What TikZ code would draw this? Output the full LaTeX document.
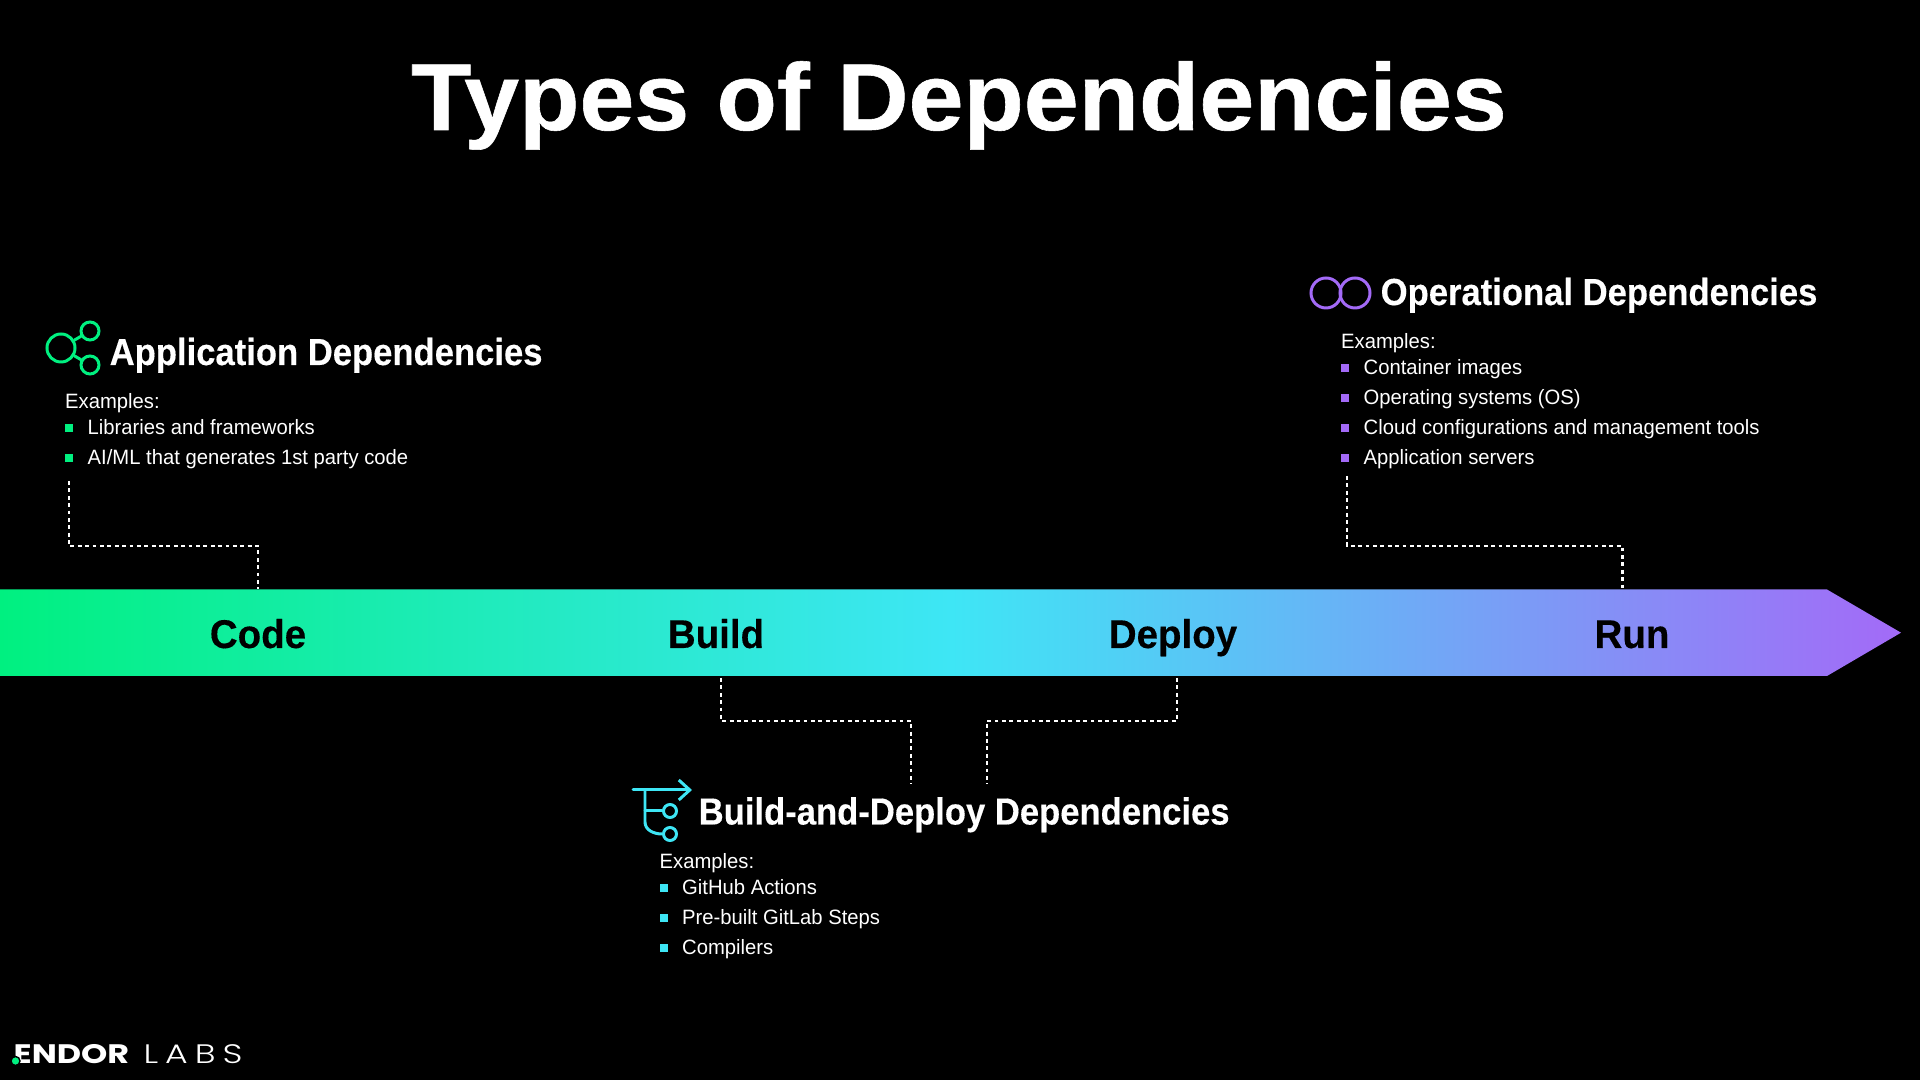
\documentclass[tikz,border=0pt]{standalone}
\usepackage{xcolor}
\usepackage{fontspec}
\usepackage{tikz}
\usetikzlibrary{
    arrows.meta,
    positioning
}
\setmainfont[FakeStretch=0.975]{Liberation Sans}
\newfontfamily\titlefont[FakeStretch=1.04,BoldFeatures={FakeBold=0.6}]{Liberation Sans}
\newfontfamily\headfont[FakeStretch=0.92,BoldFeatures={FakeBold=0.3}]{Liberation Sans}
\newfontfamily\stagefont[FakeStretch=0.96,BoldFeatures={FakeBold=0.3}]{Liberation Sans}
\newfontfamily\logofont[FakeStretch=1.25]{Poppins}
\newfontfamily\logothin[FakeStretch=1.3]{Poppins Light}
\definecolor{endgreen}{HTML}{00F080}
\definecolor{endcyan}{HTML}{3EE6F5}
\definecolor{endpurple}{HTML}{A36AF7}

\begin{document}
\begin{tikzpicture}[
    x=0.01cm, y=-0.01cm,
    titletext/.style={
        anchor=base, text=white,
        font=\titlefont\fontsize{27}{30}\selectfont\bfseries, inner sep=0pt
    },
    headtext/.style={
        anchor=base west, text=white,
        font=\headfont\fontsize{10.7}{12}\selectfont\bfseries, inner sep=0pt
    },
    stagetext/.style={
        anchor=base, text=black,
        font=\stagefont\fontsize{11.4}{12}\selectfont\bfseries, inner sep=0pt
    },
    itemtext/.style={
        anchor=base west, text=white,
        font=\fontsize{5.9}{7}\selectfont, inner sep=0pt
    },
    bulletbox/.style={
        rectangle, fill=#1, inner sep=0pt, minimum size=0.08cm
    },
    dashlink/.style={
        draw=white, line width=0.6pt, dash pattern=on 1.1pt off 1pt
    },
    iconline/.style={
        draw=#1, line width=0.85pt, line cap=round
    }
]

% background
\fill[black] (0,0) rectangle (1920,1080);
\useasboundingbox (0,0) rectangle (1920,1080);

% title
\node[titletext] (title) at (959,130) {Types of Dependencies};

% stage arrow
\path[shade, shading=axis, left color=endgreen, right color=endpurple, middle color=endcyan, shading angle=90]
    (0,589.5) -- (1827,589.5) -- (1901,632.7) -- (1827,676) -- (0,676) -- cycle;
\node[stagetext] (code) at (258,648) {Code};
\node[stagetext] (build) at (716,648) {Build};
\node[stagetext] (deploy) at (1173,648) {Deploy};
\node[stagetext] (run) at (1632,648) {Run};

% application
\node[headtext] (apphead) at (109,365) {Application Dependencies};
\node[itemtext] (appex) at (64.5,409) {Examples:};
\node[bulletbox=endgreen] (appbul1) at (69,428) {};
\node[itemtext] (appitem1) at (87,434.5) {Libraries and frameworks};
\node[bulletbox=endgreen] (appbul2) at (69,458) {};
\node[itemtext] (appitem2) at (87,465) {AI/ML that generates 1st party code};

\node[circle, iconline=endgreen, minimum size=0.28cm, inner sep=0pt] (appbig) at (61,348) {};
\node[circle, iconline=endgreen, minimum size=0.18cm, inner sep=0pt] (apptop) at (90,331) {};
\node[circle, iconline=endgreen, minimum size=0.18cm, inner sep=0pt] (applow) at (90,365) {};
\draw[iconline=endgreen] (appbig) -- (apptop);
\draw[iconline=endgreen] (appbig) -- (applow);

% operational
\node[headtext] (ophead) at (1380,305) {Operational Dependencies};
\node[itemtext] (opex) at (1340.5,349) {Examples:};
\node[bulletbox=endpurple] (opbul1) at (1345,368) {};
\node[itemtext] (opitem1) at (1363,374.5) {Container images};
\node[bulletbox=endpurple] (opbul2) at (1345,398) {};
\node[itemtext] (opitem2) at (1363,405) {Operating systems (OS)};
\node[bulletbox=endpurple] (opbul3) at (1345,428) {};
\node[itemtext] (opitem3) at (1363,434.5) {Cloud configurations and management tools};
\node[bulletbox=endpurple] (opbul4) at (1345,458) {};
\node[itemtext] (opitem4) at (1363,465) {Application servers};

\node[circle, iconline=endpurple, minimum size=0.3cm, inner sep=0pt] (opleft) at (1326,293) {};
\node[circle, iconline=endpurple, minimum size=0.3cm, inner sep=0pt] (opright) at (1355,293) {};

% build and deploy
\node[headtext] (bdhead) at (698,824.5) {Build-and-Deploy Dependencies};
\node[itemtext] (bdex) at (659,869) {Examples:};
\node[bulletbox=endcyan] (bdbul1) at (663.5,888) {};
\node[itemtext] (bditem1) at (681.5,895) {GitHub Actions};
\node[bulletbox=endcyan] (bdbul2) at (663.5,918) {};
\node[itemtext] (bditem2) at (681.5,925) {Pre-built GitLab Steps};
\node[bulletbox=endcyan] (bdbul3) at (663.5,948) {};
\node[itemtext] (bditem3) at (681.5,955) {Compilers};

\coordinate (flowstart) at (633,790);
\coordinate (flowend) at (692,790);
\coordinate (flowdrop) at (645,790);
\node[circle, iconline=endcyan, minimum size=0.13cm, inner sep=0pt] (flowtop) at (670,811) {};
\node[circle, iconline=endcyan, minimum size=0.13cm, inner sep=0pt] (flowlow) at (670,834) {};
\draw[iconline=endcyan, -{Straight Barb[length=1.1mm, width=2mm]}] (flowstart) -- (flowend);
\draw[iconline=endcyan] (flowdrop) -- (645,822) to[out=-90, in=180] (flowlow.west);
\draw[iconline=endcyan] (645,811) -- (flowtop.west);

% dashed links
\coordinate (appfoot) at (69,481);
\coordinate (appturn) at (258,546);
\coordinate (codetop) at (258,589);
\coordinate (opfoot) at (1347,476);
\coordinate (opturn) at (1622.5,546);
\coordinate (runtop) at (1622.5,589);
\coordinate (buildfoot) at (721,678);
\coordinate (buildturn) at (911,721);
\coordinate (buildend) at (911,784);
\coordinate (deployfoot) at (1177,678);
\coordinate (deployturn) at (987,721);
\coordinate (deployend) at (987,784);
\draw[dashlink] (appfoot) |- (appturn) -- (codetop);
\draw[dashlink] (opfoot) |- (opturn) -- (runtop);
\draw[dashlink] (buildfoot) |- (buildturn) -- (buildend);
\draw[dashlink] (deployfoot) |- (deployturn) -- (deployend);

% logo
\node[anchor=base west, text=white, inner sep=0pt, font=\logofont\fontsize{7.6}{8}\selectfont\bfseries\addfontfeature{LetterSpace=0}] (endor) at (13,1064) {ENDOR};
\node[anchor=base west, text=white, inner sep=0pt, font=\logothin\fontsize{7.6}{8}\selectfont\addfontfeature{LetterSpace=26}] (labs) at (143,1064) {LABS};
\node[circle, fill=endgreen, draw=black, line width=0.4pt, inner sep=0pt, minimum size=0.09cm] (logodot) at (15.5,1061) {};

\end{tikzpicture}
\end{document}
